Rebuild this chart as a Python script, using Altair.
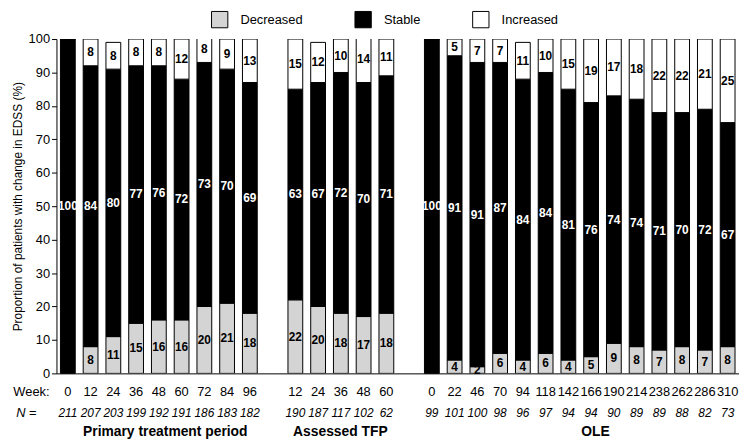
import altair as alt
import pandas as pd

segments = ["Decreased", "Stable", "Increased"]
seg_colors = ["#d4d4d4", "#000000", "#ffffff"]

primary_weeks = ["0", "12", "24", "36", "48", "60", "72", "84", "96"]
primary_n = [211, 207, 203, 199, 192, 191, 186, 183, 182]
primary_dec = [0, 8, 11, 15, 16, 16, 20, 21, 18]
primary_sta = [100, 84, 80, 77, 76, 72, 73, 70, 69]
primary_inc = [0, 8, 8, 8, 8, 12, 8, 9, 13]

tfp_weeks = ["12", "24", "36", "48", "60"]
tfp_n = [190, 187, 117, 102, 62]
tfp_dec = [22, 20, 18, 17, 18]
tfp_sta = [63, 67, 72, 70, 71]
tfp_inc = [15, 12, 10, 14, 11]

ole_weeks = ["0", "22", "46", "70", "94", "118", "142", "166", "190", "214", "238", "262", "286", "310"]
ole_n = [99, 101, 100, 98, 96, 97, 94, 94, 90, 89, 89, 88, 82, 73]
ole_dec = [0, 4, 2, 6, 4, 6, 4, 5, 9, 8, 7, 8, 7, 8]
ole_sta = [100, 91, 91, 87, 84, 84, 81, 76, 74, 74, 71, 70, 72, 67]
ole_inc = [0, 5, 7, 7, 11, 10, 15, 19, 17, 18, 22, 22, 21, 25]

group_names = ["Primary treatment period", "Assessed TFP", "OLE"]
group_start_slot = [0, 10, 16]
n_slots = 30
y_ticks = [0, 10, 20, 30, 40, 50, 60, 70, 80, 90, 100]

groups = [
    (primary_weeks, primary_n, primary_dec, primary_sta, primary_inc),
    (tfp_weeks, tfp_n, tfp_dec, tfp_sta, tfp_inc),
    (ole_weeks, ole_n, ole_dec, ole_sta, ole_inc),
]

rows = []
slot_rows = []
for gi, (weeks, ns, dec, sta, inc) in enumerate(groups):
    for i, w in enumerate(weeks):
        slot = group_start_slot[gi] + i
        slot_rows.append({"slot": slot, "week": w, "n": str(ns[i])})
        for k, vals in enumerate([dec, sta, inc]):
            rows.append({"slot": slot, "week": w, "segment": segments[k],
                         "value": vals[i], "ord": k})

df = pd.DataFrame(rows)
dslots = pd.DataFrame(slot_rows)
one = pd.DataFrame({"k": [0]})

X = alt.X("slot:O",
          scale=alt.Scale(domain=list(range(n_slots)), paddingInner=0.35, paddingOuter=0.175),
          axis=alt.Axis(labels=False, ticks=False, title=None, domainColor="black", domainWidth=1))

ytitle = "Proportion of patients with change in EDSS (%)"
yscale = alt.Scale(domain=[0, 100], nice=False)
yaxis = alt.Axis(title=ytitle, values=y_ticks, grid=False,
                 domainColor="black", tickColor="black", tickSize=5,
                 labelPadding=2, labelFontSize=13, labelColor="black",
                 titleFontSize=12, titleFontWeight="normal", titleColor="black",
                 titlePadding=4)

bars = alt.Chart(df).mark_bar(stroke="black", strokeWidth=1, clip=True).encode(
    x=X,
    y=alt.Y("value:Q", stack="zero", scale=yscale, axis=yaxis),
    color=alt.Color("segment:N", scale=alt.Scale(domain=segments, range=seg_colors),
                    legend=alt.Legend(orient="none", legendX=156, legendY=-29,
                                      direction="horizontal", title=None,
                                      symbolType="square", symbolSize=272,
                                      symbolStrokeColor="black", symbolStrokeWidth=1,
                                      symbolOpacity=1,
                                      labelFontSize=13, labelColor="black",
                                      labelOffset=12, columnPadding=50, padding=0)),
    order=alt.Order("ord:Q", sort="ascending"),
)

labels = alt.Chart(df).transform_filter("datum.value > 0").transform_stack(
    stack="value", groupby=["slot"], as_=["v0", "v1"],
    sort=[alt.SortField("ord", order="ascending")]
).transform_calculate(mid="(datum.v0 + datum.v1) / 2").mark_text(
    fontWeight="bold", fontSize=12
).encode(
    x=X,
    y=alt.Y("mid:Q", scale=yscale, axis=yaxis),
    text="value:Q",
    color=alt.condition("datum.segment == 'Stable'", alt.value("white"), alt.value("black")),
)

week_row = alt.Chart(dslots).mark_text(fontSize=13, color="black").encode(
    x=X, y=alt.value(357), text="week:N")
n_row = alt.Chart(dslots).mark_text(fontSize=12, fontStyle="italic", color="black").encode(
    x=X, y=alt.value(378), text="n:N")

week_hdr = alt.Chart(one).mark_text(text="Week:", fontSize=13, align="right", color="black").encode(
    x=alt.value(-7), y=alt.value(357))
n_hdr1 = alt.Chart(one).mark_text(text="N", fontSize=13, fontStyle="italic", align="center", color="black").encode(
    x=alt.value(-36), y=alt.value(378))
n_hdr2 = alt.Chart(one).mark_text(text="=", fontSize=13, align="center", color="black").encode(
    x=alt.value(-24), y=alt.value(378))

g_titles = []
for name, px in zip(group_names, [110, 287, 545]):
    g_titles.append(alt.Chart(one).mark_text(text=name, fontSize=14, fontWeight="bold",
                                             align="center", color="black").encode(
        x=alt.value(px), y=alt.value(397)))

chart = alt.layer(bars, labels, week_row, n_row, week_hdr, n_hdr1, n_hdr2, *g_titles).properties(
    width=690, height=338,
    padding={"left": 49, "top": 29, "right": 0, "bottom": 67},
    autosize="none",
).configure(font="Liberation Sans").configure_view(stroke=None)

chart.save("out.html", embed_options={"renderer": "svg", "actions": False})
